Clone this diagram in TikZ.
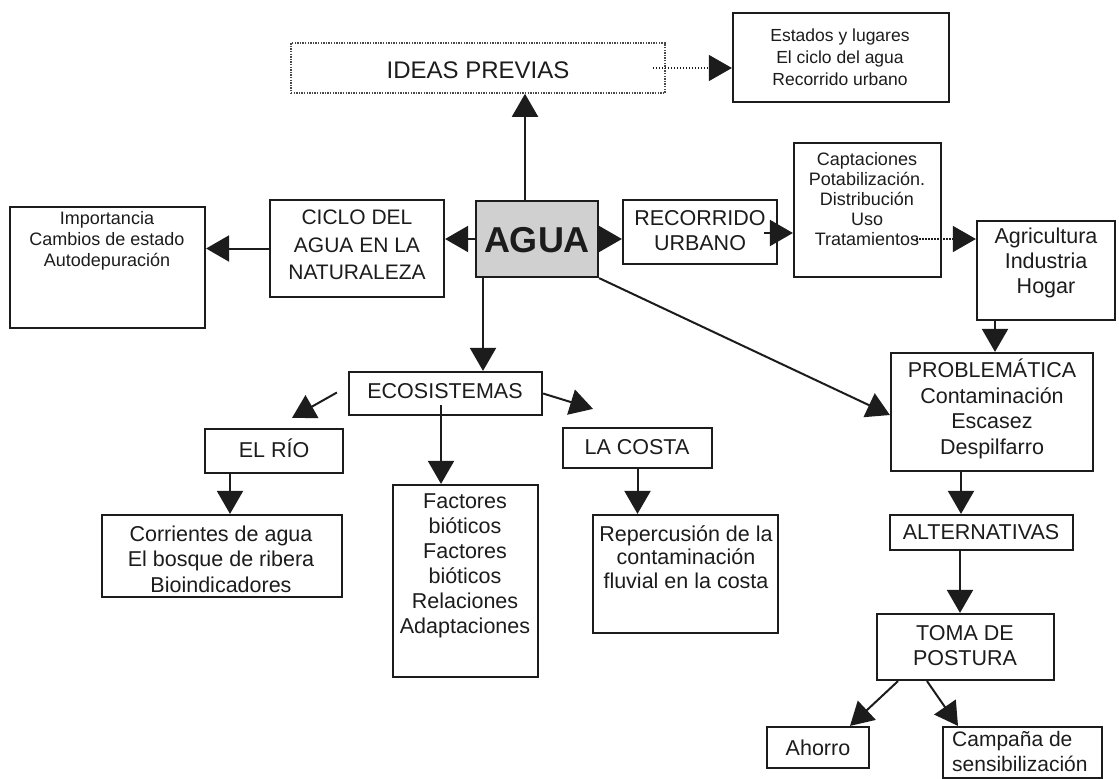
\documentclass[tikz,border=0pt]{standalone}
\usepackage{fontspec}
\setmainfont{Liberation Sans}
\usetikzlibrary{arrows.meta,calc}
\definecolor{ink}{RGB}{28,28,28}
\definecolor{aguafill}{RGB}{208,208,208}
\tikzset{
  box/.style={draw=ink, line width=2.2pt, inner sep=0pt},
  dotbox/.style={draw=ink!80, line width=1.6pt, dash pattern=on 1.4pt off 1.2pt, inner sep=0pt},
  txt/.style={text=ink, align=center, inner sep=0pt, font=\fontsize{21.5}{25}\selectfont},
  smalltxt/.style={text=ink, align=center, inner sep=0pt, font=\fontsize{18}{21}\selectfont},
  conn/.style={draw=ink, line width=2pt, -{Triangle[length=23pt,width=26pt]}},
  dotconn/.style={draw=ink, line width=1.3pt, dash pattern=on 1.5pt off 1.5pt, -{Triangle[length=23pt,width=26pt]}},
}
\begin{document}
\begin{tikzpicture}[x=1pt,y=-1pt]
\fill[white] (0,0) rectangle (1119,779);
\useasboundingbox (0,0) rectangle (1119,779);

% ---- boxes ----
\node[dotbox, minimum width=374pt, minimum height=50pt] (ideas) at (478,68) {};
\node[box, minimum width=216pt, minimum height=89pt] (estados) at (841,57.5) {};
\node[box, minimum width=195pt, minimum height=121pt] (imp) at (107.5,267.5) {};
\node[box, minimum width=174pt, minimum height=97pt] (ciclo) at (357,248.5) {};
\node[box, fill=aguafill, minimum width=122pt, minimum height=76pt] (agua) at (537,239) {};
\node[box, minimum width=154pt, minimum height=64pt] (rec) at (700,232) {};
\node[box, minimum width=147pt, minimum height=134pt] (capt) at (867.5,210) {};
\node[box, minimum width=138pt, minimum height=99pt] (agri) at (1046,270.5) {};
\node[box, minimum width=202pt, minimum height=118pt] (prob) at (992,412) {};
\node[box, minimum width=193pt, minimum height=43pt] (ecos) at (445.5,393.5) {};
\node[box, minimum width=138pt, minimum height=44pt] (rio) at (274,451) {};
\node[box, minimum width=240pt, minimum height=82pt] (corr) at (222,556) {};
\node[box, minimum width=145pt, minimum height=192pt] (fact) at (465.5,581) {};
\node[box, minimum width=149pt, minimum height=40pt] (costa) at (637.5,448) {};
\node[box, minimum width=185pt, minimum height=118pt] (rep) at (685.5,574) {};
\node[box, minimum width=183pt, minimum height=35pt] (alt) at (981.5,532.5) {};
\node[box, minimum width=177pt, minimum height=66pt] (toma) at (965.5,647) {};
\node[box, minimum width=102pt, minimum height=41pt] (ahorro) at (818,747.5) {};
\node[box, minimum width=159pt, minimum height=51pt] (camp) at (1022.5,752.5) {};

% ---- texts ----
\node[txt, font=\fontsize{24}{28}\selectfont] (ideas-t) at (478,70) {IDEAS PREVIAS};
\node[smalltxt, font=\fontsize{17.5}{22}\selectfont] (estados-t) at (840,57) {Estados y lugares\\El ciclo del agua\\Recorrido urbano};
\node[smalltxt] (imp-t) at (107,241) {Importancia\\Cambios de estado\\Autodepuración};
\node[txt, font=\fontsize{21}{27.5}\selectfont] (ciclo-t) at (357,245) {CICLO DEL\\AGUA EN LA\\NATURALEZA};
\node[txt, font=\fontsize{36}{40}\selectfont\bfseries] (agua-t) at (537,240) {AGUA};
\node[txt] (rec-t) at (700,231) {RECORRIDO\\URBANO};
\node[smalltxt, font=\fontsize{18}{20}\selectfont] (capt-t) at (867,199) {Captaciones\\Potabilización.\\Distribución\\Uso\\Tratamientos};
\node[txt] (agri-t) at (1046,263) {Agricultura\\Industria\\Hogar};
\node[txt, font=\fontsize{21.5}{25.5}\selectfont] (prob-t) at (992,409) {PROBLEMÁTICA\\Contaminación\\Escasez\\Despilfarro};
\node[txt] (ecos-t) at (445,391) {ECOSISTEMAS};
\node[txt] (rio-t) at (274,448) {EL RÍO};
\node[txt, font=\fontsize{21.5}{25.5}\selectfont] (corr-t) at (221,559) {Corrientes de agua\\El bosque de ribera\\Bioindicadores};
\node[txt] (fact-t) at (465,566) {Factores\\bióticos\\Factores\\bióticos\\Relaciones\\Adaptaciones};
\node[txt] (costa-t) at (637,447) {LA COSTA};
\node[txt, font=\fontsize{21.5}{23.5}\selectfont] (rep-t) at (686,557) {Repercusión de la\\contaminación\\fluvial en la costa};
\node[txt] (alt-t) at (981,532) {ALTERNATIVAS};
\node[txt] (toma-t) at (965,645.5) {TOMA DE\\POSTURA};
\node[txt] (ahorro-t) at (818,748) {Ahorro};
\node[txt, align=left, anchor=west, font=\fontsize{21}{25}\selectfont] (camp-t) at (952,751) {Campaña de\\sensibilización};

% ---- connectors ----
\coordinate (a1) at ($(agua.north)+(-12,0)$);
\draw[conn] (a1) -- (a1 |- ideas.south);
\coordinate (d1) at ($(ideas.east)+(-13,0)$);
\draw[dotconn] (d1) -- (d1 -| estados.west);
\draw[conn] (agua.west) -- (agua.west -| ciclo.east);
\draw[conn] (ciclo.west) -- (ciclo.west -| imp.east);
\draw[conn] (agua.east) -- (agua.east -| rec.west);
\coordinate (r1) at ($(rec.east)+(-14,1)$);
\draw[conn] (r1) -- (r1 -| capt.west);
\coordinate (t1) at ($(capt.east)+(-26,29)$);
\draw[dotconn] (t1) -- (t1 -| agri.west);
\coordinate (g1) at ($(agri.south)+(-51,0)$);
\draw[conn] (g1) -- (g1 |- prob.north);
\draw[conn] (agua.south east) -- ($(prob.west)+(0,3)$);
\coordinate (e1) at ($(agua.south)+(-54,0)$);
\draw[conn] (e1) -- (e1 |- ecos.north);
\draw[conn] ($(ecos.west)+(-11,-1)$) -- ($(rio.north)+(18,-10)$);
\coordinate (e2) at ($(ecos.south)+(-4.5,-11)$);
\draw[conn] (e2) -- (e2 |- fact.north);
\draw[conn] (ecos.east) -- ($(costa.north)+(-44.5,-18)$);
\coordinate (rv) at ($(rio.south)+(-44,0)$);
\draw[conn] (rv) -- (rv |- corr.north);
\draw[conn] (costa.south) -- (costa.south |- rep.north);
\coordinate (p1) at ($(prob.south)+(-31,0)$);
\draw[conn] (p1) -- (p1 |- alt.north);
\coordinate (al1) at ($(alt.south)+(-21.5,0)$);
\draw[conn] (al1) -- (al1 |- toma.north);
\draw[conn] ($(toma.south)+(-67.5,0)$) -- ($(ahorro.north)+(32,0)$);
\draw[conn] ($(toma.south)+(-38.5,0)$) -- ($(camp.north)+(-64.5,0)$);
\end{tikzpicture}
\end{document}
